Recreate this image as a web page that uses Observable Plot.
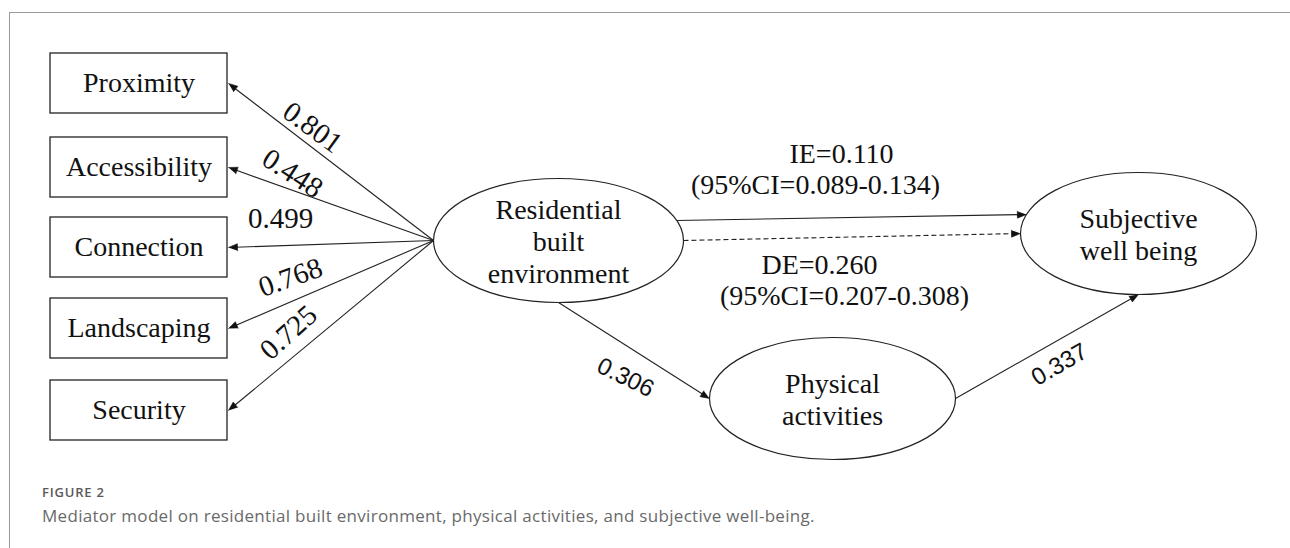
<!DOCTYPE html>
<html><head><meta charset="utf-8">
<script src="https://cdn.jsdelivr.net/npm/d3@7"></script>
<script src="https://cdn.jsdelivr.net/npm/@observablehq/plot@0.6"></script>
<style>
html,body{margin:0;padding:0;background:#fff;}
#wrap{position:relative;width:1290px;height:548px;overflow:hidden;}
#frame{position:absolute;left:9px;top:12px;right:-2px;bottom:-2px;border-left:1px solid #9a9a9a;border-top:1px solid #9a9a9a;}
#chart{position:absolute;left:0;top:0;}
#fig{position:absolute;left:42px;top:484px;font:600 13px "Open Sans",sans-serif;letter-spacing:0.8px;color:#5a5a5a;line-height:16px;}
#cap{position:absolute;left:42px;top:505px;font:400 17px "Open Sans",sans-serif;letter-spacing:0.3px;color:#6a6a6a;line-height:22px;}
</style></head>
<body>
<div id="wrap">
  <div id="frame"></div>
  <div id="chart"></div>
  <div id="fig">FIGURE 2</div>
  <div id="cap">Mediator model on residential built environment, physical activities, and subjective well-being.</div>
</div>
<script>
// ---------------- DATA ----------------
const indicators = ["Proximity", "Accessibility", "Connection", "Landscaping", "Security"];
const loadings = [0.801, 0.448, 0.499, 0.768, 0.725];
const latentNames = ["Residential\nbuilt\nenvironment", "Physical\nactivities", "Subjective\nwell being"];
const pathA = 0.306;   // residential built environment -> physical activities
const pathB = 0.337;   // physical activities -> subjective well being
const effectNames = ["IE", "DE"];
const effectValues = [0.110, 0.260];
const ciLow = [0.089, 0.207];
const ciHigh = [0.134, 0.308];

// ---------------- LAYOUT ----------------
const BOX = {x1: 50, x2: 227, h: 60};
const BOX_CY = [83, 167, 247, 328, 410];
const ELL = [
  {cx: 558, cy: 240, rx: 125, ry: 62},
  {cx: 832, cy: 398, rx: 123, ry: 61},
  {cx: 1138, cy: 233, rx: 118, ry: 61}
];
const LOAD_POS = [[312, 127, 36], [292, 173, 33], [280, 218, 0], [290, 277, -19.5], [288, 332, -42]];
const A_POS = [625, 377, 26];
const B_POS = [1059, 364, -30];
const EFFECT_POS = [[[841, 154], [815, 185]], [[819, 265], [844, 296]]];

const fmt = d3.format(".3f");
const serif = "'Liberation Serif','Times New Roman',serif";
const sans = "'Liberation Sans',Arial,sans-serif";
const ink = "#111";

const boxes = indicators.map((name, i) => ({name, x1: BOX.x1, x2: BOX.x2, y1: BOX_CY[i] - BOX.h / 2, y2: BOX_CY[i] + BOX.h / 2, cx: (BOX.x1 + BOX.x2) / 2, cy: BOX_CY[i]}));
const nodes = latentNames.map((name, i) => ({name, ...ELL[i]}));
const [rbe, pa, swb] = nodes;
function ept(e, dy, side) {
  return [e.cx + side * e.rx * Math.sqrt(1 - (dy / e.ry) ** 2), e.cy + dy];
}
const edges = [
  ...boxes.map(b => ({from: [rbe.cx - rbe.rx, rbe.cy], to: [b.x2 + 1, b.cy], dash: false})),
  {from: ept(rbe, -20, 1), to: ept(swb, -19, -1), dash: false},
  {from: ept(rbe, 0, 1), to: ept(swb, 0, -1), dash: true},
  {from: [rbe.cx, rbe.cy + rbe.ry], to: [pa.cx - pa.rx, pa.cy], dash: false},
  {from: [pa.cx + pa.rx, pa.cy], to: [swb.cx, swb.cy + swb.ry], dash: false}
].map((e, k) => {
  const dx = e.to[0] - e.from[0], dy = e.to[1] - e.from[1], L = Math.hypot(dx, dy);
  return {...e, k, ux: dx / L, uy: dy / L};
});
const HL = 9, HW = 3.5;
const links = edges.map(e => ({dash: e.dash, x1: e.from[0], y1: e.from[1], x2: e.to[0] - e.ux * (HL - 2), y2: e.to[1] - e.uy * (HL - 2)}));
const heads = edges.flatMap(e => {
  const bx = e.to[0] - e.ux * HL, by = e.to[1] - e.uy * HL;
  return [
    {k: e.k, x: e.to[0], y: e.to[1]},
    {k: e.k, x: bx - e.uy * HW, y: by + e.ux * HW},
    {k: e.k, x: bx + e.uy * HW, y: by - e.ux * HW}
  ];
});

function ellipseSymbol(ratio) {
  return {draw(ctx, size) {
    const rx = Math.sqrt(size / Math.PI), ry = rx * ratio, k = 0.5522848;
    ctx.moveTo(rx, 0);
    ctx.bezierCurveTo(rx, ry * k, rx * k, ry, 0, ry);
    ctx.bezierCurveTo(-rx * k, ry, -rx, ry * k, -rx, 0);
    ctx.bezierCurveTo(-rx, -ry * k, -rx * k, -ry, 0, -ry);
    ctx.bezierCurveTo(rx * k, -ry, rx, -ry * k, rx, 0);
    ctx.closePath();
  }};
}

const loadLabels = loadings.map((v, i) => ({text: fmt(v), x: LOAD_POS[i][0], y: LOAD_POS[i][1], r: LOAD_POS[i][2]}));
const pathLabels = [
  {text: fmt(pathA), x: A_POS[0], y: A_POS[1], r: A_POS[2]},
  {text: fmt(pathB), x: B_POS[0], y: B_POS[1], r: B_POS[2]}
];
const effectLabels = effectNames.flatMap((n, i) => [
  {text: `${n}=${fmt(effectValues[i])}`, x: EFFECT_POS[i][0][0], y: EFFECT_POS[i][0][1]},
  {text: `(95%CI=${fmt(ciLow[i])}-${fmt(ciHigh[i])})`, x: EFFECT_POS[i][1][0], y: EFFECT_POS[i][1][1]}
]);

const W = 1290, H = 470;
const chart = Plot.plot({
  width: W, height: H, margin: 0,
  x: {type: "linear", domain: [0, W], range: [0, W], axis: null},
  y: {type: "linear", domain: [0, H], range: [0, H], axis: null},
  style: {background: "transparent", overflow: "visible"},
  marks: [
    Plot.link(links.filter(d => !d.dash), {x1: "x1", y1: "y1", x2: "x2", y2: "y2", stroke: "#222", strokeWidth: 1.1}),
    Plot.link(links.filter(d => d.dash), {x1: "x1", y1: "y1", x2: "x2", y2: "y2", stroke: "#222", strokeWidth: 1.1, strokeDasharray: "5,3"}),
    Plot.line(heads, {x: "x", y: "y", z: "k", fill: ink, stroke: ink, strokeWidth: 0.6}),
    Plot.rect(boxes, {x1: "x1", x2: "x2", y1: "y1", y2: "y2", fill: "white", stroke: "#222", strokeWidth: 1.3}),
    Plot.text(boxes, {x: "cx", y: "cy", text: "name", fontFamily: serif, fontSize: 28, fill: ink, lineAnchor: "middle"}),
    ...nodes.map(n => Plot.dot([n], {x: "cx", y: "cy", r: n.rx, symbol: ellipseSymbol(n.ry / n.rx), fill: "white", stroke: "#222", strokeWidth: 1.2})),
    Plot.text(nodes, {x: "cx", y: "cy", text: "name", fontFamily: serif, fontSize: 28, lineHeight: 1.15, fill: ink, lineAnchor: "middle"}),
    Plot.text(loadLabels, {x: "x", y: "y", text: "text", rotate: "r", fontFamily: serif, fontSize: 29, fill: ink, lineAnchor: "middle"}),
    Plot.text(pathLabels, {x: "x", y: "y", text: "text", rotate: "r", fontFamily: sans, fontSize: 24, fill: ink, lineAnchor: "middle"}),
    Plot.text(effectLabels, {x: "x", y: "y", text: "text", fontFamily: serif, fontSize: 28, fill: ink, lineAnchor: "middle"})
  ]
});
document.getElementById("chart").appendChild(chart);
</script>
</body></html>
